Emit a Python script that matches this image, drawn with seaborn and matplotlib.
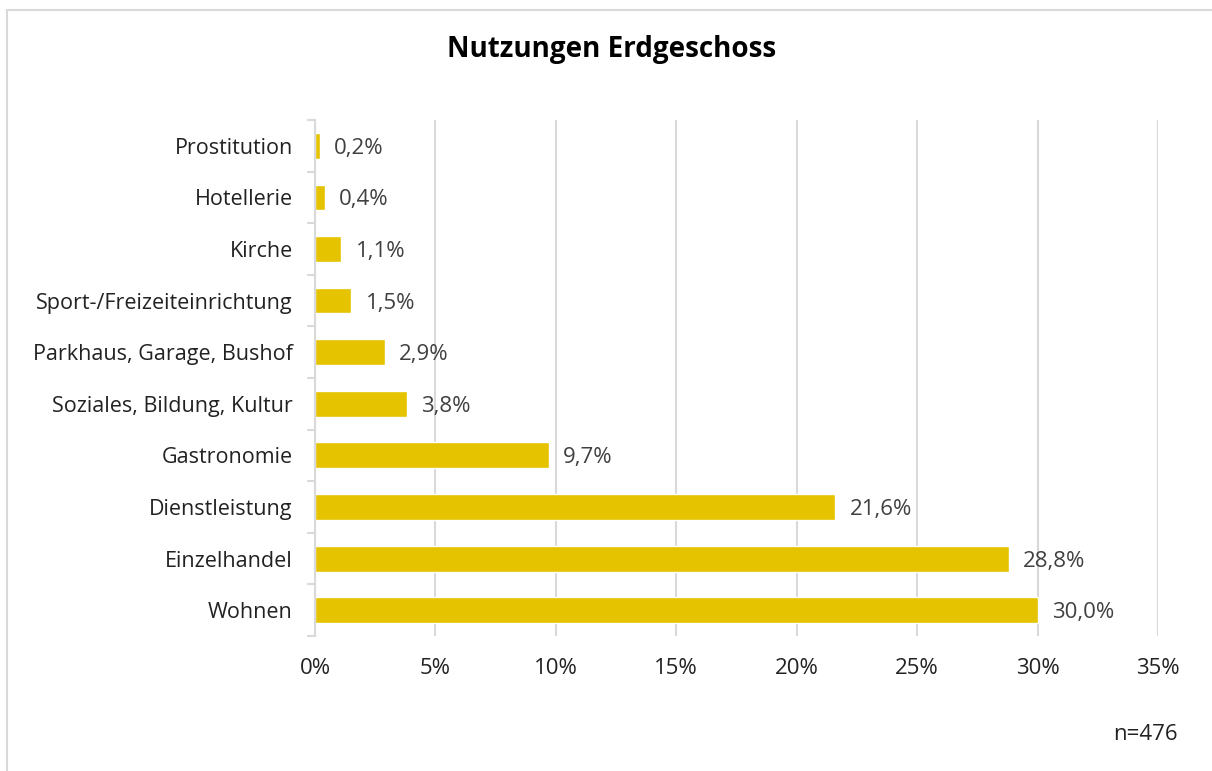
import matplotlib
matplotlib.use("Agg")
import matplotlib.pyplot as plt
import seaborn as sns
import pandas as pd
from matplotlib.patches import Rectangle
from matplotlib import font_manager

categories = ["Prostitution", "Hotellerie", "Kirche", "Sport-/Freizeiteinrichtung",
              "Parkhaus, Garage, Bushof", "Soziales, Bildung, Kultur", "Gastronomie",
              "Dienstleistung", "Einzelhandel", "Wohnen"]
values = [0.2, 0.4, 1.1, 1.5, 2.9, 3.8, 9.7, 21.6, 28.8, 30.0]
xticks = [0, 5, 10, 15, 20, 25, 30, 35]
title = "Nutzungen Erdgeschoss"
note = "n=476"

sns.set_theme(style="white")
names = {f.name for f in font_manager.fontManager.ttflist}
fam = "Liberation Sans Narrow" if "Liberation Sans Narrow" in names else "Open Sans"
plt.rcParams["font.family"] = [fam, "DejaVu Sans"]

df = pd.DataFrame({"cat": categories, "val": values})

fig = plt.figure(figsize=(12.12, 7.71), dpi=100)
W, H = 1212, 771
x0, x1 = 315, 1158
y0, y1 = 120, 636
ax = fig.add_axes([x0 / W, 1 - y1 / H, (x1 - x0) / W, (y1 - y0) / H])

sns.barplot(data=df, y="cat", x="val", orient="h", color="#E5C300",
            saturation=1, width=0.5, ax=ax, zorder=3)

ax.set_xlim(0, 35)
ax.set_ylim(len(categories) - 0.5, -0.5)
ax.set_xticks(xticks)
ax.set_xticklabels([f"{t}%" for t in xticks], fontsize=16, color="#222222")
ax.tick_params(axis="x", length=0, pad=16)
ax.tick_params(axis="y", length=0, pad=16)
for lab in ax.get_yticklabels():
    lab.set_fontsize(15.5)
    lab.set_color("#222222")
ax.set_xlabel("")
ax.set_ylabel("")
ax.xaxis.grid(True, color="#D9D9D9", linewidth=1.5, zorder=0)
for s in ["top", "right", "bottom"]:
    ax.spines[s].set_visible(False)
ax.spines["left"].set_color("#D9D9D9")
ax.spines["left"].set_linewidth(1.5)
ax.spines["left"].set_zorder(4)

# boundary tick marks on the category axis
for i in range(len(categories) + 1):
    ax.plot([-0.3, 0], [i - 0.5, i - 0.5], color="#D9D9D9", lw=1.5,
            clip_on=False, zorder=4, transform=ax.transData)

for i, v in enumerate(values):
    ax.text(v + 0.6, i + 0.05, f"{v:.1f}%".replace(".", ","), va="center", ha="left",
            fontsize=16, color="#404040", zorder=5)

fig.text(612 / W, 1 - 50 / H, title, ha="center", va="center", fontsize=20,
         fontweight="bold", color="#000000")
fig.text(1178 / W, 1 - 735 / H, note, ha="right", va="center", fontsize=16,
         color="#222222")

fig.patches.append(Rectangle((7 / W, -0.01), 1.02, 1 - 10 / H + 0.01,
                             transform=fig.transFigure, fill=False,
                             edgecolor="#D9D9D9", linewidth=1.5))

fig.savefig("out.png", dpi=100)
